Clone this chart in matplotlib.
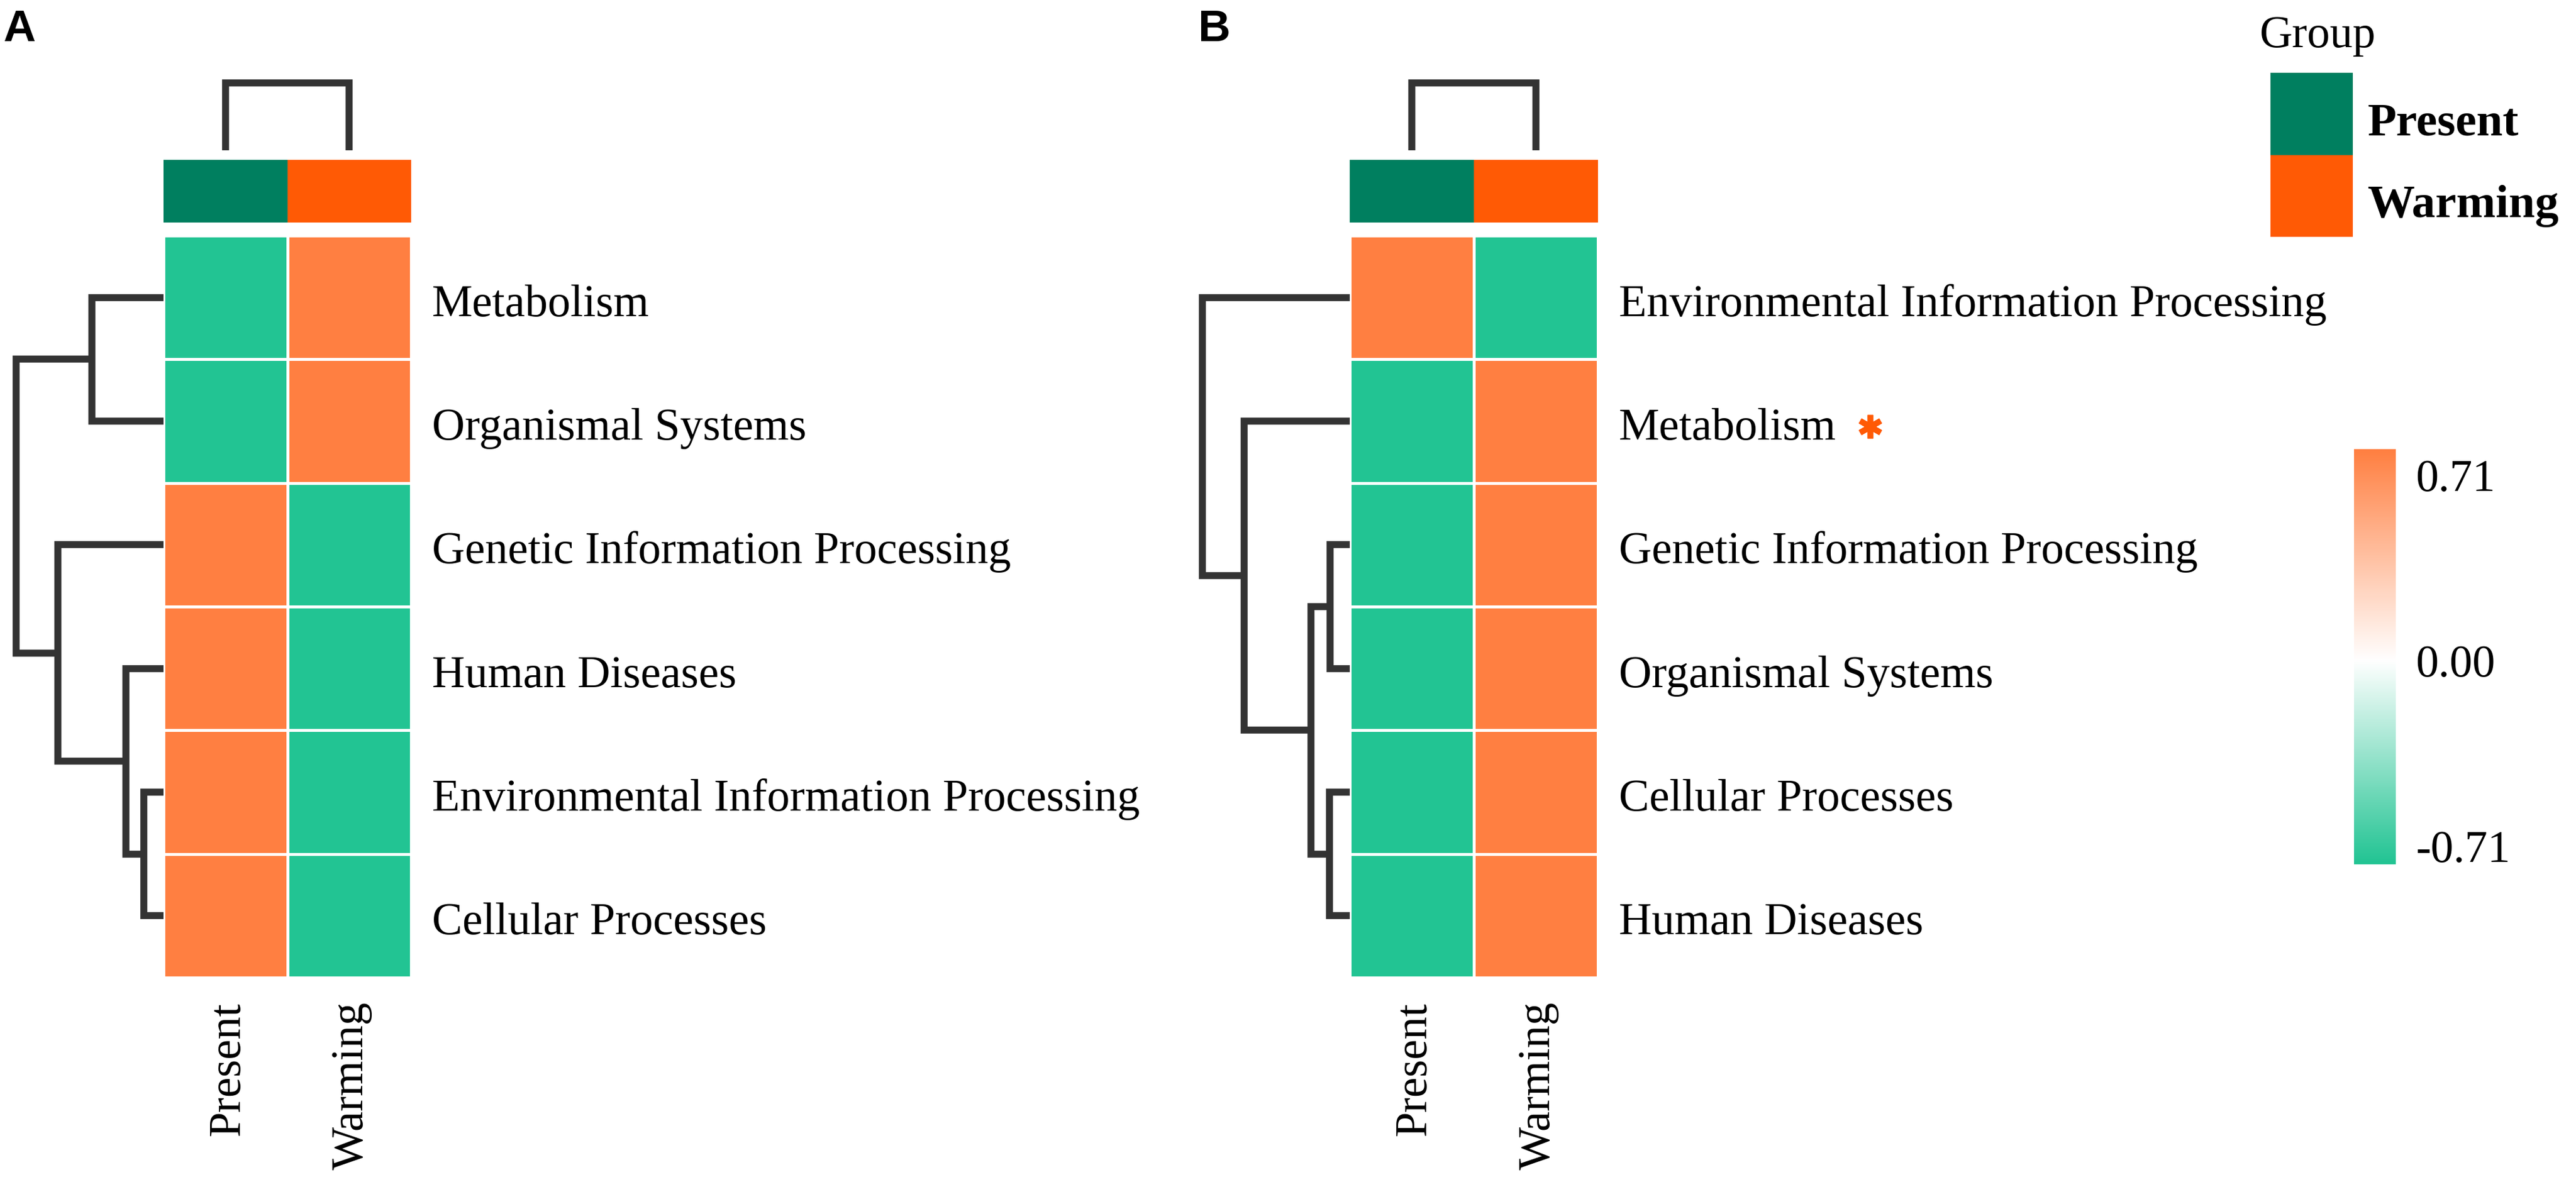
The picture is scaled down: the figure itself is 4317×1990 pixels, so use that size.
import numpy as np
import matplotlib
matplotlib.use("Agg")
import matplotlib.pyplot as plt
from matplotlib.colors import LinearSegmentedColormap, ListedColormap, Normalize, TwoSlopeNorm
from matplotlib.transforms import ScaledTranslation

# ---------------- data ----------------
groups = ["Present", "Warming"]
group_colors = ["#007F5F", "#FF5A05"]

rows_A = ["Metabolism", "Organismal Systems", "Genetic Information Processing",
          "Human Diseases", "Environmental Information Processing", "Cellular Processes"]
present_A = [-0.71, -0.71, 0.71, 0.71, 0.71, 0.71]
warming_A = [0.71, 0.71, -0.71, -0.71, -0.71, -0.71]
# merges: (left, right, height) ; leaves in display order, node n+k = k-th merge
row_merges_A = [(4, 5, 0.133), (3, 6, 0.257), (0, 1, 0.486), (2, 7, 0.715), (8, 9, 1.0)]

rows_B = ["Environmental Information Processing", "Metabolism", "Genetic Information Processing",
          "Organismal Systems", "Cellular Processes", "Human Diseases"]
present_B = [0.71, -0.71, -0.71, -0.71, -0.71, -0.71]
warming_B = [-0.71, 0.71, 0.71, 0.71, 0.71, 0.71]
row_merges_B = [(2, 3, 0.134), (4, 5, 0.138), (6, 7, 0.264), (1, 8, 0.715), (0, 9, 1.0)]

col_merges = [(0, 1, 1.0)]
significant_B = ["Metabolism"]

cbar_ticks = [-0.71, 0.0, 0.71]
cbar_ticklabels = ["-0.71", "0.00", "0.71"]
cbar_range = (-0.78, 0.81)

low_color, mid_color, high_color = "#22C493", "#FFFFFF", "#FF7F41"

# ---------------- setup ----------------
W, H, DPI = 4317, 1990, 300
SERIF = ["Liberation Serif", "DejaVu Serif"]
SANS = ["Liberation Sans", "DejaVu Sans"]
FS = 18.3
LINE_C = "#333333"
LW = 2.8

cmap = LinearSegmentedColormap.from_list("gw", [low_color, mid_color, high_color])
norm = Normalize(-0.71, 0.71)

fig = plt.figure(figsize=(W / DPI, H / DPI), dpi=DPI)
fig.patch.set_facecolor("white")


def box(x0, y0, x1, y1):
    return [x0 / W, 1 - y1 / H, (x1 - x0) / W, (y1 - y0) / H]


def off(dx, dy):
    return ScaledTranslation(dx / DPI, -dy / DPI, fig.dpi_scale_trans)


def dendro_segments(merges, n):
    pos = {i: i + 0.5 for i in range(n)}
    hgt = {i: 0.0 for i in range(n)}
    segs = []
    for k, (a, b, h) in enumerate(merges):
        segs.append(([hgt[a], h, h, hgt[b]], [pos[a], pos[a], pos[b], pos[b]]))
        pos[n + k] = (pos[a] + pos[b]) / 2
        hgt[n + k] = h
    return segs


HM_TOP, HM_BOT = 395, 1639
ANN_TOP, ANN_BOT = 268, 373
CD_TOP, CD_BOT, CD_ROOT = 125, 252, 139


def draw_panel(left, right, rows, present, warming, merges, letter, letter_x):
    n = len(rows)
    data = np.column_stack([present, warming])
    # heatmap
    ax = fig.add_axes(box(left, HM_TOP, right, HM_BOT))
    ax.pcolormesh(np.arange(3), np.arange(n + 1), data, cmap=cmap, norm=norm,
                  edgecolors="white", linewidth=1.1)
    ax.set_xlim(0, 2)
    ax.set_ylim(n, 0)
    ax.axis("off")
    # row labels
    texts = {}
    for i, name in enumerate(rows):
        t = ax.text(2, i + 0.5, name, transform=ax.transData + off(35, 31),
                    ha="left", va="baseline", fontsize=FS, family=SERIF, color="black")
        texts[name] = t
    # column labels
    for j, g in enumerate(groups):
        ax.text(j + 0.5, n, g, transform=ax.transData + off(4, 40), rotation=90,
                ha="center", va="top", fontsize=FS, family=SERIF, color="black")
    # annotation bar
    aax = fig.add_axes(box(left, ANN_TOP, right, ANN_BOT))
    aax.pcolormesh(np.arange(3), [0, 1], [[0, 1]], cmap=ListedColormap(group_colors),
                   vmin=0, vmax=1)
    aax.set_xlim(0, 2)
    aax.axis("off")
    # column dendrogram
    cax = fig.add_axes(box(left, CD_TOP, right, CD_BOT))
    for hs, ps in dendro_segments(col_merges, 2):
        cax.plot(ps, hs, color=LINE_C, lw=LW, solid_joinstyle="miter", solid_capstyle="butt")
    cax.set_xlim(0, 2)
    cax.set_ylim(0, (CD_BOT - CD_TOP) / (CD_BOT - CD_ROOT))
    cax.axis("off")
    # row dendrogram
    span = 254
    rax = fig.add_axes(box(left - span, HM_TOP, left, HM_BOT))
    for hs, ps in dendro_segments(merges, n):
        rax.plot(hs, ps, color=LINE_C, lw=LW, solid_joinstyle="miter", solid_capstyle="butt")
    rax.set_xlim(span / 247.0, 0)
    rax.set_ylim(n, 0)
    rax.axis("off")
    # panel letter
    fig.text(letter_x / W, 1 - 69 / H, letter, ha="left", va="baseline",
             fontsize=18, fontweight="bold", family=SANS)
    return ax, texts


axA, textsA = draw_panel(274, 689, rows_A, present_A, warming_A, row_merges_A, "A", 5)
axB, textsB = draw_panel(2262, 2678, rows_B, present_B, warming_B, row_merges_B, "B", 2008)

# significance star(s)
fig.canvas.draw()
renderer = fig.canvas.get_renderer()
for name in significant_B:
    bb = textsB[name].get_window_extent(renderer)
    i = rows_B.index(name)
    x_disp = bb.x1 + 57
    y_disp = axB.transData.transform((0, i + 0.5))[1] - 9
    xa, ya = axB.transAxes.inverted().transform((x_disp, y_disp))
    axB.plot([xa], [ya], transform=axB.transAxes, marker=(6, 2, 0), markersize=9.5,
             markeredgewidth=2.3, color=group_colors[1], clip_on=False, linestyle="none")

# colour bar
cbax = fig.add_axes(box(3945, 753, 4015, 1449))
lo, hi = cbar_range
grad = np.linspace(lo, hi, 512)[:, None]
cbax.imshow(grad, aspect="auto", cmap=cmap, norm=TwoSlopeNorm(vcenter=0, vmin=lo, vmax=hi),
            extent=[0, 1, lo, hi], origin="lower")
cbax.set_ylim(lo, hi)
cbax.set_xlim(0, 1)
cbax.set_xticks([])
cbax.yaxis.tick_right()
cbax.set_yticks(cbar_ticks)
cbax.set_yticklabels(cbar_ticklabels, fontsize=FS, family=SERIF)
cbax.tick_params(axis="y", length=0, pad=8)
for s in cbax.spines.values():
    s.set_visible(False)

# group legend
lax = fig.add_axes(box(3805, 122, 3943, 397))
lax.pcolormesh([0, 1], np.arange(3), [[0], [1]], cmap=ListedColormap(group_colors), vmin=0, vmax=1)
lax.set_xlim(0, 1)
lax.set_ylim(2, 0)
lax.axis("off")
for i, g in enumerate(groups):
    lax.text(1, i + 0.5, g, transform=lax.transData + off(25, 36), ha="left", va="baseline",
             fontsize=19, fontweight="bold", family=SERIF)
lax.text(0, 0, "Group", transform=lax.transData + off(-18, -43), ha="left", va="baseline",
         fontsize=FS, family=SERIF)

fig.savefig("out.png", dpi=DPI, facecolor="white")
